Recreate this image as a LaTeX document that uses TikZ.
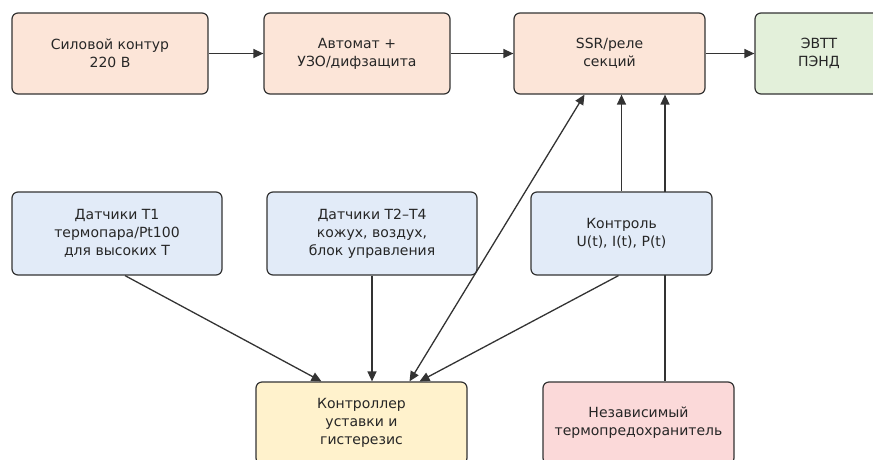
\documentclass[tikz,border=0pt]{standalone}
\usepackage{fontspec}
\setmainfont{DejaVu Sans}
\usepackage{xcolor}
\usepackage{tikz}
\usetikzlibrary{
  arrows.meta,
  positioning,
  calc,
  backgrounds
}
\definecolor{powercolor}{HTML}{FCE5D8}
\definecolor{loadcolor}{HTML}{E3F0DA}
\definecolor{sensecolor}{HTML}{E2EBF8}
\definecolor{ctrlcolor}{HTML}{FFF2CC}
\definecolor{fusecolor}{HTML}{FBD9D9}
\definecolor{edgecolor}{HTML}{333333}

\begin{document}
\begin{tikzpicture}[
  x=1pt, y=-1pt,
  block/.style={draw=edgecolor, line width=1.2pt, rounded corners=6pt,
                minimum height=81pt, align=center,
                font=\fontsize{14}{18}\selectfont, text=black!85},
  arrow/.style={-{Triangle[length=10pt, width=9pt]}, line width=1.3pt, edgecolor},
  biarrow/.style={{Triangle[length=10pt, width=9pt]}-{Triangle[length=10pt, width=9pt]},
                  line width=1.3pt, edgecolor},
]
  \clip (0,0) rectangle (873,459);

  % power chain
  \node[block, fill=powercolor, minimum width=196pt] (pwr) at (110, 53.5)
    {Силовой контур\\220 В};
  \node[block, fill=powercolor, minimum width=186pt] (rcd) at (357, 53.5)
    {Автомат +\\УЗО/дифзащита};
  \node[block, fill=powercolor, minimum width=191pt] (ssr) at (609.5, 53.5)
    {SSR/реле\\секций};
  \node[block, fill=loadcolor, minimum width=128pt] (heater) at (819, 53.5)
    {ЭВТТ\\ПЭНД};

  % sensing
  \node[block, fill=sensecolor, minimum width=210pt, minimum height=83pt] (sensA) at (117, 233.5)
    {Датчики T1\\термопара/Pt100\\для высоких T};
  \node[block, fill=sensecolor, minimum width=210pt, minimum height=83pt] (sensB) at (372, 233.5)
    {Датчики T2–T4\\кожух, воздух,\\блок управления};
  \node[block, fill=sensecolor, minimum width=181pt, minimum height=83pt] (mon) at (621.5, 233.5)
    {Контроль\\U(t), I(t), P(t)};

  % control and protection
  \node[block, fill=ctrlcolor, minimum width=211pt, minimum height=82pt] (ctrl) at (361.5, 423)
    {Контроллер\\уставки и\\гистерезис};
  \node[block, fill=fusecolor, minimum width=191pt, minimum height=82pt] (fuse) at (638.5, 423)
    {Независимый\\термопредохранитель};

  \draw[arrow] (pwr.east) -- (rcd.west);
  \draw[arrow] (rcd.east) -- (ssr.west);
  \draw[arrow] (ssr.east) -- (heater.west);

  \draw[arrow] ([xshift=8pt]sensA.south) -- ([xshift=-40pt]ctrl.north);
  \draw[arrow] (sensB.south) -- (sensB.south |- ctrl.north);
  \draw[biarrow] ([xshift=48pt]ctrl.north) -- ([xshift=-25pt]ssr.south);
  \draw[arrow] ([xshift=-3pt]mon.south) -- ([xshift=58pt]ctrl.north);
  \draw[arrow] (mon.north) -- (mon.north |- ssr.south);

  \begin{scope}[on background layer]
    \draw[arrow] ([xshift=26.5pt]fuse.north) -- ([xshift=26.5pt]fuse.north |- ssr.south);
  \end{scope}
\end{tikzpicture}
\end{document}
